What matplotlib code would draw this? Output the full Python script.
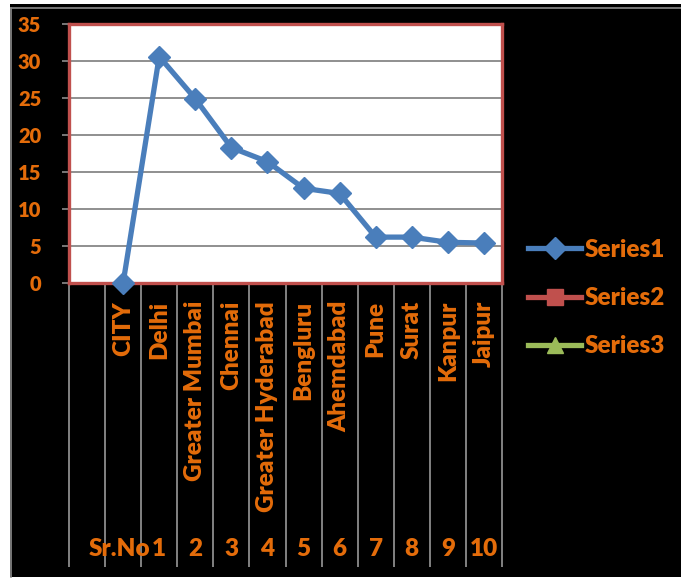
import numpy as np
import matplotlib.pyplot as plt
from matplotlib import transforms
from matplotlib.patches import Rectangle
from matplotlib.lines import Line2D

plt.rcParams['font.family'] = ['Lato', 'DejaVu Sans']
plt.rcParams['font.weight'] = 'heavy'

# city names (first row is the empty header cell)
cities = ['', 'CITY', 'Delhi', 'Greater Mumbai', 'Chennai', 'Greater Hyderabad',
          'Bengluru', 'Ahemdabad', 'Pune', 'Surat', 'Kanpur', 'Jaipur']
sr_no = ['', 'Sr.No', '1', '2', '3', '4', '5', '6', '7', '8', '9', '10']
series1 = [np.nan, 0, 30.6, 24.9, 18.3, 16.4, 12.8, 12.1, 6.2, 6.2, 5.5, 5.4]
series2 = [np.nan] * len(cities)
series3 = [np.nan] * len(cities)
y_ticks = [0, 5, 10, 15, 20, 25, 30, 35]

orange = '#E46C0A'
W, H = 681, 580
fig = plt.figure(figsize=(W / 100, H / 100), dpi=100)
fig.patch.set_facecolor('white')

# black chart area with thin grey frame at top/left
fig.patches.append(Rectangle((10 / W, 3 / H), 1, 1 - 7 / H, transform=fig.transFigure,
                             facecolor='black', edgecolor='none', zorder=-10))
fig.lines.append(Line2D([11 / W, 11 / W], [3 / H, 1 - 7.5 / H], transform=fig.transFigure,
                        color='#8c8c8c', lw=1.2, zorder=-9))
fig.lines.append(Line2D([11 / W, 1], [1 - 7.5 / H, 1 - 7.5 / H], transform=fig.transFigure,
                        color='#8c8c8c', lw=1.2, zorder=-9))

x0, x1, ytop, ybot = 69, 502, 24, 283
ax = fig.add_axes([x0 / W, 1 - ybot / H, (x1 - x0) / W, (ybot - ytop) / H])
ax.set_facecolor('white')

x = np.arange(len(cities))
ax.plot(x, series1, color='#4A7EBB', lw=3.8, marker='D', ms=11, label='Series1',
        zorder=5, clip_on=False)
ax.plot(x, series2, color='#C0504D', lw=3.8, marker='s', ms=11, label='Series2')
ax.plot(x, series3, color='#9BBB59', lw=3.8, marker='^', ms=12, label='Series3')

ax.set_xlim(-0.5, len(cities) - 0.5)
ax.set_ylim(0, 35)
ax.set_yticks(y_ticks)
ax.yaxis.grid(True, color='#878787', lw=1.3)
ax.set_axisbelow(True)
ax.tick_params(axis='y', colors='#8c8c8c', length=5, width=1.2, pad=15,
               labelcolor=orange, labelsize=14.5)
for lab in ax.get_yticklabels():
    lab.set_fontweight('heavy')

ax.set_xticks(x)
ax.set_xticklabels(cities, rotation=90, color=orange, fontsize=17.5, fontweight='heavy')
ax.tick_params(axis='x', length=0, pad=13)

for s in ax.spines.values():
    s.set_color('#C0504D')
    s.set_linewidth(2.4)

# category separators running below the plot
trans = transforms.blended_transform_factory(ax.transData, ax.transAxes)
span = ybot - ytop
bounds = np.arange(len(cities) + 1) - 0.5
ax.vlines(bounds, -(567 - ybot) / span, 0, transform=trans, color='#8c8c8c',
          lw=1.3, clip_on=False, zorder=0)

# second level labels ("Sr.No" header nudged left so it clears the "1")
for xi, s in zip(x, sr_no):
    xo = xi - 0.1 if s == 'Sr.No' else xi
    ax.text(xo, -(549 - ybot) / span, s, transform=trans, ha='center', va='center',
            color=orange, fontsize=17.5, fontweight='heavy')

leg = ax.legend(loc='upper left', bbox_to_anchor=(528 / W, 1 - 239 / H),
                bbox_transform=fig.transFigure, frameon=False, fontsize=17.5,
                labelcolor=orange, handlelength=2.2, handletextpad=0.15,
                labelspacing=1.07, borderpad=0, borderaxespad=0)
for t in leg.get_texts():
    t.set_fontweight('heavy')

fig.savefig('out.png', dpi=100, facecolor=fig.get_facecolor())
